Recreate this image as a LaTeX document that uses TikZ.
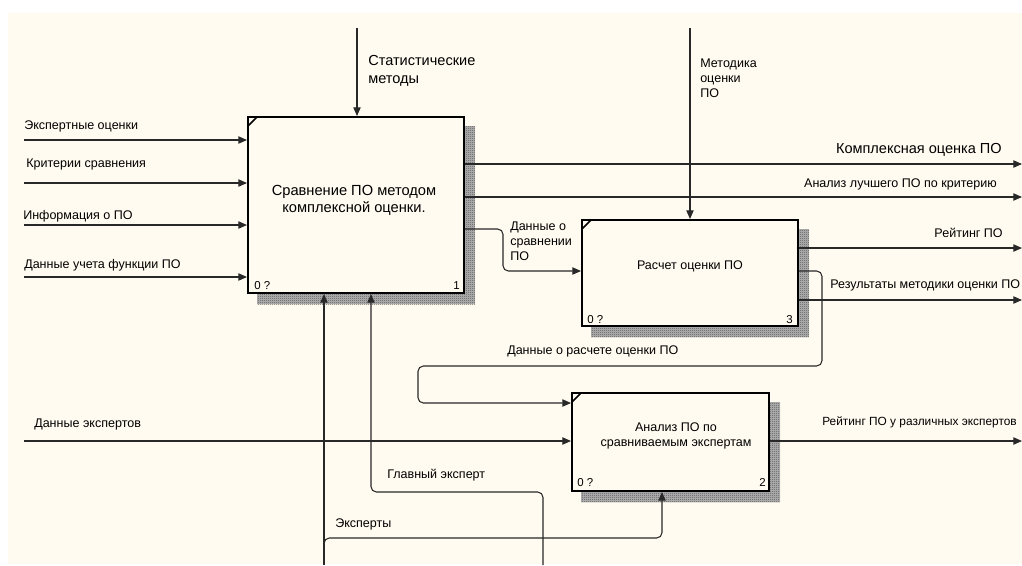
\documentclass[tikz,border=0pt]{standalone}
\usepackage{fontspec}
\setmainfont{Liberation Sans}
\usetikzlibrary{arrows.meta,patterns.meta,backgrounds}
\definecolor{cream}{RGB}{255,251,240}
\definecolor{lineclr}{RGB}{40,40,40}
\tikzdeclarepattern{
  name=fchk,
  type=uncolored,
  bounding box={(0pt,0pt) and (1.5pt,1.5pt)},
  tile size={(1.5pt,1.5pt)},
  code={\fill (0pt,0pt) rectangle (0.75pt,0.75pt); \fill (0.75pt,0.75pt) rectangle (1.5pt,1.5pt);}
}
\tikzset{
  box/.style={draw=black, line width=1.5pt, fill=cream, inner sep=0pt},
  arr/.style={draw=lineclr, line width=0.8pt, -{Triangle[length=6.5pt,width=5.5pt]}},
  lbl/.style={font=\fontsize{9.4}{11}\selectfont, inner sep=0pt, anchor=base west},
  lblr/.style={lbl, anchor=base east},
  big/.style={font=\fontsize{10.9}{13}\selectfont, inner sep=0pt, anchor=base west},
  bigr/.style={big, anchor=base east},
  boxtxt/.style={font=\fontsize{11}{13}\selectfont, inner sep=0pt, anchor=base},
  boxtxts/.style={font=\fontsize{9.4}{11}\selectfont, inner sep=0pt, anchor=base},
  num/.style={font=\fontsize{8.6}{10}\selectfont, inner sep=0pt, anchor=base west},
  numr/.style={num, anchor=base east},
  shadowfill/.style={fill=black!28, postaction={pattern=fchk, pattern color=black!80}},
  cornermark/.style={draw=black, line width=1.1pt}
}
\begin{document}
\begin{tikzpicture}[x=0.75pt,y=-0.75pt]
\useasboundingbox (0,0) rectangle (1022,565);
\begin{scope}[on background layer]
  \fill[white] (0,0) rectangle (1022,565);
  \fill[cream] (8,13) rectangle (1022,564);
\end{scope}

% boxes
\node[box, minimum width=162pt, minimum height=132pt] (b1) at (356,205) {};
\node[box, minimum width=162pt, minimum height=79.5pt] (b3) at (690,273) {};
\node[box, minimum width=147.75pt, minimum height=73.5pt] (b2) at (670.5,442) {};

\begin{scope}[on background layer]
  \path[shadowfill] ([shift={(10,10)}]b1.north west) rectangle ([shift={(10,10)}]b1.south east);
  \path[shadowfill] ([shift={(10,10)}]b3.north west) rectangle ([shift={(10,10)}]b3.south east);
  \path[shadowfill] ([shift={(10,10)}]b2.north west) rectangle ([shift={(10,10)}]b2.south east);
\end{scope}

% corner marks
\draw[cornermark] ([shift={(1,10)}]b1.north west) -- ([shift={(10,1)}]b1.north west);
\draw[cornermark] ([shift={(1,10)}]b3.north west) -- ([shift={(10,1)}]b3.north west);
\draw[cornermark] ([shift={(1,10)}]b2.north west) -- ([shift={(10,1)}]b2.north west);

% box texts
\node[boxtxt] (t1a) at (354,195) {Сравнение ПО методом};
\node[boxtxt] (t1b) at (354,212) {комплексной оценки.};
\node[boxtxts] (t3) at (690,269) {Расчет оценки ПО};
\node[boxtxts] (t2a) at (676,431) {Анализ ПО по};
\node[boxtxts] (t2b) at (676,446) {сравниваемым экспертам};

\node[num] (n1a) at (254,289) {0 ?};
\node[numr] (n1b) at (460,289) {1};
\node[num] (n3a) at (587,323) {0 ?};
\node[numr] (n3b) at (793,323) {3};
\node[num] (n2a) at (577,486) {0 ?};
\node[numr] (n2b) at (766,486) {2};

% free ends
\coordinate (sm) at (357,28);
\coordinate (mo) at (690,28);
\coordinate (in1) at (24,140);
\coordinate (in2) at (24,183);
\coordinate (in3) at (24,225);
\coordinate (in4) at (24,277);
\coordinate (in5) at (24,441);
\coordinate (out1) at (1022,164);
\coordinate (out2) at (1022,197);
\coordinate (out3) at (1022,248);
\coordinate (out4) at (1022,300);
\coordinate (out5) at (1022,441);
\coordinate (ex) at (324,565);
\coordinate (ge) at (543,565);

% controls
\draw[arr] (sm) -- (sm |- b1.north);
\draw[arr] (mo) -- (mo |- b3.north);

% inputs
\draw[arr] (in1) -- (in1 -| b1.west);
\draw[arr] (in2) -- (in2 -| b1.west);
\draw[arr] (in3) -- (in3 -| b1.west);
\draw[arr] (in4) -- (in4 -| b1.west);
\draw[arr] (in5) -- (in5 -| b2.west);

% outputs
\draw[arr] (b1.east |- out1) -- (out1);
\draw[arr] (b1.east |- out2) -- (out2);
\draw[arr, rounded corners=4pt] (b1.east |- 0,229) -- (503,229) -- (503,271) -- (b3.west |- 0,271);
\draw[arr] (b3.east |- out3) -- (out3);
\draw[arr] (b3.east |- out4) -- (out4);
\draw[arr, rounded corners=4pt] (b3.east |- 0,271) -- (822,271) -- (822,366) -- (418,366) -- (418,403) -- (b2.west |- 0,403);
\draw[arr] (b2.east |- out5) -- (out5);

% mechanisms
\draw[arr] (ex) -- (ex |- b1.south);
\draw[arr, rounded corners=4pt] (ex |- 0,552) -- (ex |- 0,538) -- (662,538) -- (662,538 |- b2.south);
\draw[arr, rounded corners=4pt] (ge) -- (543,492) -- (371,492) -- (371,492 |- b1.south);

% labels
\node[big] (l_sm1) at (368,65) {Статистические};
\node[big] (l_sm2) at (368,83) {методы};
\node[lbl] (l_mo1) at (700,67) {Методика};
\node[lbl] (l_mo2) at (700,82) {оценки};
\node[lbl] (l_mo3) at (700,97) {ПО};
\node[lbl] (l_in1) at (24,129) {Экспертные оценки};
\node[lbl] (l_in2) at (26,167) {Критерии сравнения};
\node[lbl] (l_in3) at (23,219) {Информация о ПО};
\node[lbl] (l_in4) at (24,268) {Данные учета функции ПО};
\node[lbl] (l_in5) at (34,427) {Данные экспертов};
\node[bigr] (l_o1) at (1002,153) {Комплексная оценка ПО};
\node[lblr] (l_o2) at (997,187) {Анализ лучшего ПО по критерию};
\node[lbl] (l_d1) at (510,230) {Данные о};
\node[lbl] (l_d2) at (510,245) {сравнении};
\node[lbl] (l_d3) at (510,260) {ПО};
\node[lblr] (l_o3) at (1003,237) {Рейтинг ПО};
\node[lbl] (l_o4) at (830,288) {Результаты методики оценки ПО};
\node[lbl] (l_fb) at (507,354) {Данные о расчете оценки ПО};
\node[lbl, font=\fontsize{8.9}{11}\selectfont] (l_o5) at (822,425) {Рейтинг ПО у различных экспертов};
\node[lbl] (l_ge) at (387,478) {Главный эксперт};
\node[lbl] (l_ex) at (335,527) {Эксперты};
\end{tikzpicture}
\end{document}
